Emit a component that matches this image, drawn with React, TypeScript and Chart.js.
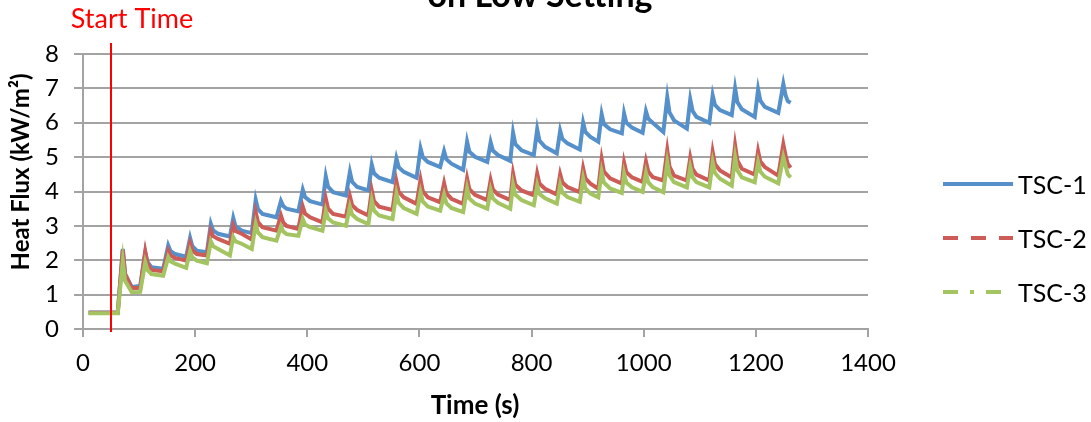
import { useEffect, useRef } from 'react';
import { Chart, registerables } from 'chart.js';

Chart.register(...registerables);

// Vertex times (s): baseline, then per heating cycle: peak, knee, shoulder, trough before next rise
const timeS = [
  10, 62,
  71, 75, 87, 102,
  111, 115, 122, 143,
  152, 156, 164, 184,
  191, 195, 203, 221,
  228, 232, 241, 262,
  268, 272, 283, 301,
  308, 312, 320, 345,
  353, 357, 363, 384,
  392, 396, 405, 427,
  433, 437, 446, 469,
  476, 480, 489, 509,
  515, 519, 528, 552,
  559, 563, 572, 595,
  602, 606, 615, 637,
  644, 648, 657, 678,
  685, 689, 699, 721,
  727, 731, 740, 762,
  767, 771, 782, 804,
  810, 814, 824, 845,
  851, 855, 864, 886,
  892, 896, 905, 919,
  925, 929, 940, 961,
  965, 969, 979, 998,
  1004, 1008, 1016, 1035,
  1042, 1046, 1054, 1077,
  1083, 1087, 1094, 1117,
  1123, 1127, 1136, 1157,
  1163, 1167, 1175, 1198,
  1204, 1208, 1216, 1240,
  1249, 1253, 1257, 1262,
];

// Heat flux (kW/m²)
const tsc1 = [
  0.48, 0.48,
  2.33, 1.60, 1.22, 1.25,
  2.23, 1.95, 1.80, 1.75,
  2.43, 2.27, 2.18, 2.10,
  2.65, 2.41, 2.28, 2.23,
  3.06, 2.87, 2.77, 2.69,
  3.23, 2.99, 2.86, 2.79,
  3.76, 3.49, 3.35, 3.25,
  3.72, 3.58, 3.50, 3.42,
  4.05, 3.84, 3.72, 3.62,
  4.44, 4.14, 3.98, 3.88,
  4.57, 4.28, 4.13, 4.03,
  4.78, 4.53, 4.40, 4.27,
  4.96, 4.71, 4.57, 4.40,
  5.25, 5.00, 4.86, 4.71,
  5.17, 4.94, 4.81, 4.63,
  5.45, 5.16, 5.01, 4.86,
  5.43, 5.19, 5.06, 4.89,
  5.71, 5.38, 5.20, 5.06,
  5.81, 5.48, 5.30, 5.11,
  5.77, 5.53, 5.40, 5.22,
  6.00, 5.73, 5.59, 5.45,
  6.25, 5.96, 5.81, 5.69,
  6.27, 6.00, 5.86, 5.71,
  6.33, 6.12, 6.00, 5.73,
  6.74, 6.30, 6.07, 5.83,
  6.68, 6.35, 6.17, 6.00,
  6.80, 6.52, 6.37, 6.22,
  7.00, 6.60, 6.39, 6.17,
  6.97, 6.64, 6.46, 6.29,
  7.13, 6.80, 6.63, 6.58,
];

const tsc2 = [
  0.47, 0.47,
  2.30, 1.60, 1.19, 1.20,
  2.25, 1.90, 1.72, 1.68,
  2.28, 2.14, 2.07, 1.99,
  2.50, 2.29, 2.18, 2.14,
  2.86, 2.70, 2.62, 2.48,
  3.01, 2.85, 2.77, 2.60,
  3.40, 3.11, 2.96, 2.86,
  3.30, 3.10, 3.00, 2.91,
  3.56, 3.36, 3.25, 3.10,
  3.79, 3.50, 3.35, 3.27,
  3.86, 3.60, 3.46, 3.30,
  4.03, 3.72, 3.56, 3.46,
  4.29, 3.99, 3.83, 3.64,
  4.34, 4.01, 3.83, 3.69,
  4.24, 3.95, 3.79, 3.64,
  4.38, 4.07, 3.90, 3.75,
  4.33, 4.06, 3.91, 3.75,
  4.52, 4.20, 4.03, 3.89,
  4.52, 4.23, 4.08, 3.91,
  4.50, 4.26, 4.13, 3.98,
  4.67, 4.38, 4.23, 4.08,
  4.94, 4.58, 4.38, 4.23,
  4.84, 4.56, 4.41, 4.28,
  4.87, 4.58, 4.42, 4.32,
  5.20, 4.72, 4.46, 4.32,
  4.98, 4.66, 4.49, 4.32,
  5.15, 4.80, 4.61, 4.41,
  5.34, 4.90, 4.66, 4.49,
  5.17, 4.87, 4.71, 4.46,
  5.37, 5.05, 4.80, 4.69,
];

const tsc3 = [
  0.46, 0.46,
  1.98, 1.40, 1.07, 1.08,
  1.94, 1.72, 1.60, 1.55,
  2.09, 1.97, 1.90, 1.78,
  2.26, 2.08, 1.99, 1.91,
  2.55, 2.41, 2.33, 2.14,
  2.67, 2.55, 2.48, 2.33,
  3.06, 2.81, 2.67, 2.57,
  2.98, 2.84, 2.76, 2.71,
  3.20, 3.04, 2.96, 2.86,
  3.44, 3.22, 3.10, 3.00,
  3.56, 3.33, 3.20, 3.05,
  3.74, 3.45, 3.30, 3.20,
  3.95, 3.67, 3.52, 3.35,
  3.98, 3.71, 3.56, 3.44,
  3.91, 3.66, 3.52, 3.40,
  4.09, 3.80, 3.65, 3.50,
  4.04, 3.80, 3.67, 3.50,
  4.20, 3.91, 3.75, 3.60,
  4.18, 3.93, 3.80, 3.65,
  4.20, 3.97, 3.84, 3.70,
  4.38, 4.09, 3.94, 3.83,
  4.57, 4.26, 4.09, 3.96,
  4.52, 4.26, 4.12, 3.99,
  4.54, 4.27, 4.13, 3.98,
  4.85, 4.47, 4.27, 4.12,
  4.71, 4.42, 4.27, 4.12,
  4.85, 4.54, 4.37, 4.17,
  5.00, 4.62, 4.41, 4.27,
  4.85, 4.58, 4.43, 4.24,
  5.00, 4.75, 4.50, 4.41,
];

const seriesNames = ['TSC-1', 'TSC-2', 'TSC-3'];
const xTickValues = [0, 200, 400, 600, 800, 1000, 1200, 1400];
const yTickValues = [0, 1, 2, 3, 4, 5, 6, 7, 8];
const startTime = 50;

const COLORS = ['#5590CB', '#CD5C58', '#A3C461'];
const LEGEND_DASH = [[], [15, 13], [15, 12, 4, 12]];
const GRID = '#a3a3a3';
const FONT = 'Lato';

const decorPlugin = {
  id: 'decor',
  afterDatasetsDraw(chart: any) {
    const { ctx, scales } = chart;
    const xs = scales.x;
    ctx.save();

    // start-time marker
    const sx = Math.round(xs.getPixelForValue(startTime));
    ctx.strokeStyle = '#ff0000';
    ctx.lineWidth = 2;
    ctx.beginPath();
    ctx.moveTo(sx, 43);
    ctx.lineTo(sx, 332);
    ctx.stroke();
    ctx.fillStyle = '#ff0000';
    ctx.font = `27px ${FONT}`;
    ctx.textAlign = 'center';
    ctx.textBaseline = 'middle';
    ctx.fillText('Start Time', 132, 19);

    // chart title (last line)
    ctx.fillStyle = '#000';
    ctx.font = `bold 34px ${FONT}`;
    ctx.textAlign = 'center';
    ctx.textBaseline = 'alphabetic';
    ctx.fillText('on Low Setting', 540, 7);

    // axis titles
    ctx.font = `bold 26px ${FONT}`;
    ctx.textBaseline = 'middle';
    ctx.fillText('Time (s)', 475, 406);
    ctx.font = `bold 24px ${FONT}`;
    ctx.save();
    ctx.translate(21, 172);
    ctx.rotate(-Math.PI / 2);
    ctx.fillText('Heat Flux (kW/m\u00B2)', 0, 0);
    ctx.restore();

    // legend
    const legendY = [184, 238, 292];
    seriesNames.forEach((name, i) => {
      const y = legendY[i];
      ctx.strokeStyle = COLORS[i];
      ctx.lineWidth = 4;
      ctx.lineCap = 'butt';
      ctx.setLineDash(LEGEND_DASH[i]);
      ctx.beginPath();
      ctx.moveTo(943, y);
      ctx.lineTo(1013, y);
      ctx.stroke();
      ctx.setLineDash([]);
      ctx.fillStyle = '#000';
      ctx.font = `25px ${FONT}`;
      ctx.textAlign = 'left';
      ctx.textBaseline = 'middle';
      ctx.fillText(name, 1018, y + 2);
    });
    ctx.restore();
  },
};

export default function App() {
  const canvasRef = useRef<HTMLCanvasElement | null>(null);

  useEffect(() => {
    document.body.style.margin = '0';
    const canvas = canvasRef.current;
    if (!canvas) return;
    const seriesValues = [tsc1, tsc2, tsc3];
    const datasets = seriesValues.map((vals, i) => ({
      label: seriesNames[i],
      data: timeS.map((t, k) => ({ x: t, y: vals[k] })),
      borderColor: COLORS[i],
      backgroundColor: COLORS[i],
      borderWidth: 4,
      pointRadius: 0,
      tension: 0,
      fill: false,
      order: 2 - i,
    }));

    const chart = new Chart(canvas, {
      type: 'line',
      data: { datasets },
      options: {
        responsive: false,
        animation: false,
        events: [],
        layout: { padding: { left: 0, top: 54, right: 223, bottom: 0 } },
        plugins: {
          legend: { display: false },
          tooltip: { enabled: false },
          title: { display: false },
        },
        scales: {
          x: {
            type: 'linear',
            min: 0,
            max: 1400,
            afterBuildTicks: (s: any) => {
              s.ticks = xTickValues.map((v) => ({ value: v }));
            },
            afterFit: (s: any) => {
              s.height = 93;
            },
            ticks: {
              color: '#000',
              font: { family: FONT, size: 24 },
              padding: 12,
              maxRotation: 0,
              callback: (v: any) => String(v),
            },
            grid: {
              drawOnChartArea: false,
              drawTicks: true,
              tickLength: 8,
              color: GRID,
              lineWidth: 2,
            },
            border: { color: GRID, width: 2 },
          },
          y: {
            type: 'linear',
            min: 0,
            max: 8,
            afterBuildTicks: (s: any) => {
              s.ticks = yTickValues.map((v) => ({ value: v }));
            },
            afterFit: (s: any) => {
              s.width = 83;
            },
            ticks: {
              color: '#000',
              font: { family: FONT, size: 24 },
              padding: 15,
              callback: (v: any) => String(v),
            },
            grid: {
              drawTicks: true,
              tickLength: 9,
              color: GRID,
              lineWidth: 2,
            },
            border: { color: GRID, width: 2 },
          },
        },
      },
      plugins: [decorPlugin],
    });
    return () => chart.destroy();
  }, []);

  return (
    <div style={{ position: 'absolute', left: 0, top: 0, width: 1091, height: 422, background: '#fff' }}>
      <canvas ref={canvasRef} width={1091} height={422} style={{ width: 1091, height: 422, display: 'block' }} />
    </div>
  );
}
